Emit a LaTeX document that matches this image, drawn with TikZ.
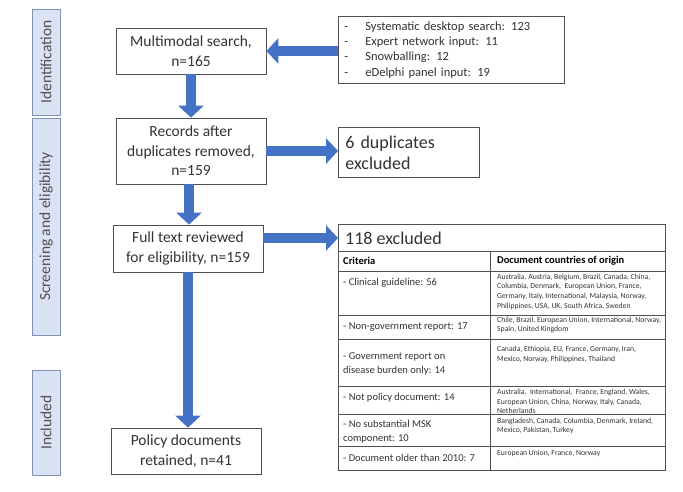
\documentclass[tikz,border=0pt]{standalone}
\usepackage{fontspec}
\setmainfont{Carlito}
\usetikzlibrary{arrows.meta,calc}
\definecolor{flowblue}{HTML}{4472C4}
\definecolor{barfill}{HTML}{DAE3F3}
\definecolor{barline}{HTML}{7F93B5}
\definecolor{txt}{HTML}{333333}
\definecolor{edge}{HTML}{505050}
\begin{document}
\begin{tikzpicture}[x=1pt,y=-1pt,
  box/.style={draw=edge, line width=0.8pt, fill=white, text=txt, align=center, inner sep=0pt, font=\fontsize{15.5}{19.5}\selectfont},
  sidebar/.style={draw=barline, fill=barfill, line width=0.9pt, inner sep=0pt, rotate=90, text=edge, font=\fontsize{15.5}{18}\selectfont},
  flow/.style={draw=flowblue, line width=10pt, -{Triangle[width=25pt,length=12pt]}},
  tline/.style={draw=edge, line width=0.7pt},
  crit/.style={anchor=west, inner sep=0pt, text=txt, align=left, font=\fontsize{10.5}{13.8}\selectfont},
  ctry/.style={anchor=west, inner sep=0pt, text=txt, align=left, font=\fontsize{7.7}{9.7}\selectfont},
  head/.style={anchor=west, inner sep=0pt, text=black, font=\fontsize{10.5}{13}\selectfont\bfseries}
]
\useasboundingbox[fill=white] (0,0) rectangle (683,491);

% side bars
\node[sidebar, minimum width=106, minimum height=28] (bar1) at (46,62) {Identification};
\node[sidebar, minimum width=217, minimum height=28] (bar2) at (46,226.5) {Screening and eligibility};
\node[sidebar, minimum width=105, minimum height=28] (bar3) at (46,422.5) {Included};

% main boxes
\node[box, minimum width=150, minimum height=46] (box1) at (191,51) {Multimodal search,\\n=165};
\node[box, minimum width=150, minimum height=66] (box2) at (191,151) {Records after\\duplicates removed,\\n=159};
\node[box, minimum width=150, minimum height=47] (box3) at (188,248.5) {Full text reviewed\\for eligibility, n=159};
\node[box, minimum width=150, minimum height=46] (box4) at (186,451) {Policy documents\\retained, n=41};

% source box
\node[box, anchor=north west, minimum width=226, minimum height=67, text width=214pt, inner xsep=6pt, align=left,
      font=\fontsize{12.5}{15.3}\selectfont] (src) at (338,16)
  {\makebox[21pt][l]{-}Systematic desktop search: 123\\
   \makebox[21pt][l]{-}Expert network input: 11\\
   \makebox[21pt][l]{-}Snowballing: 12\\
   \makebox[21pt][l]{-}eDelphi panel input: 19};

% duplicates box
\node[box, anchor=north west, minimum width=141, minimum height=50, text width=127pt, inner xsep=7pt, align=left,
      font=\fontsize{18}{21}\selectfont] (dup) at (338,127)
  {6 duplicates\\excluded};

% exclusion table
\node[draw=edge, line width=0.8pt, fill=white, anchor=north west, minimum width=327, minimum height=246, inner sep=0pt] (tab) at (338,224) {};
\draw[tline] (338,251) -- (665,251);
\draw[tline] (338,271) -- (665,271);
\draw[tline] (338,315) -- (665,315);
\draw[tline] (338,339) -- (665,339);
\draw[tline] (338,386) -- (665,386);
\draw[tline] (338,414) -- (665,414);
\draw[tline] (338,446) -- (665,446);
\draw[tline] (490,251) -- (490,470);

\node[anchor=west, inner sep=0pt, text=txt, font=\fontsize{18}{21}\selectfont] (exc) at (345,238) {118 excluded};
\node[head] (hc) at (343,261) {Criteria};
\node[head] (hd) at (497,261) {Document countries of origin};

\node[crit] (c1) at (343,283) {- Clinical guideline: 56};
\node[ctry] (d1) at (497,291.5) {Australia, Austria, Belgium, Brazil, Canada, China,\\Columbia, Denmark,\ \ European Union, France,\\Germany, Italy, International, Malaysia, Norway,\\Philippines, USA, UK, South Africa, Sweden};
\node[crit] (c2) at (343,327) {- Non-government report: 17};
\node[ctry] (d2) at (497,325) {Chile, Brazil, European Union, International, Norway,\\Spain, United Kingdom};
\node[crit] (c3) at (343,364) {- Government report on\\disease burden only: 14};
\node[ctry] (d3) at (497,354.5) {Canada, Ethiopia, EU, France, Germany, Iran,\\Mexico, Norway, Philippines, Thailand};
\node[crit] (c4) at (343,398) {- Not policy document: 14};
\node[ctry] (d4) at (497,401.5) {Australia,\ \ International,\ \ France, England, Wales,\\European Union, China, Norway, Italy, Canada,\\Netherlands};
\node[crit] (c5) at (343,432) {- No substantial MSK\\component: 10};
\node[ctry] (d5) at (497,426) {Bangladesh, Canada, Columbia, Denmark, Ireland,\\Mexico, Pakistan, Turkey};
\node[crit] (c6) at (343,458) {- Document older than 2010: 7};
\node[ctry] (d6) at (497,453) {European Union, France, Norway};

% arrows
\draw[flow] (src.west |- box1.east) -- (box1.east);
\draw[flow] (box1.south) -- (box1.south |- box2.north);
\draw[flow] (box2.east) -- (box2.east -| dup.west);
\draw[flow] ([xshift=-2pt]box2.south) -- ([xshift=-2pt]box2.south |- box3.north);
\draw[flow] ([yshift=10.5pt]box3.east) -- ([yshift=10.5pt]box3.east -| tab.west);
\draw[flow] (box3.south) -- (box3.south |- box4.north);
\end{tikzpicture}
\end{document}
